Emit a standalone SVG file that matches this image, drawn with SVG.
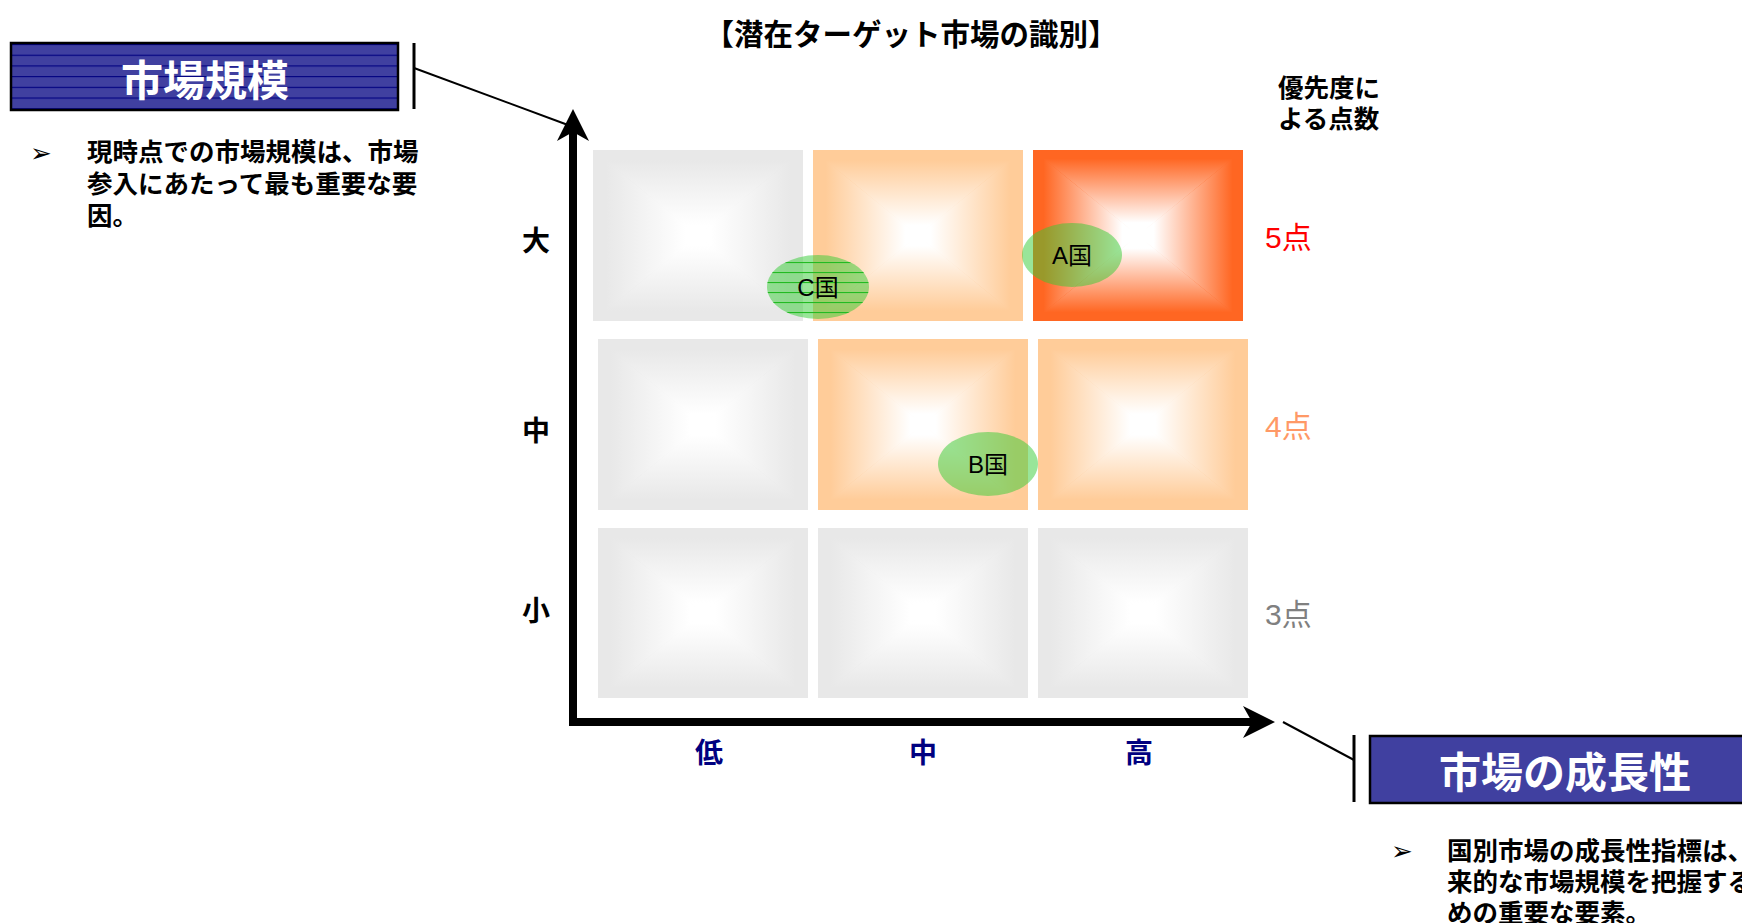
<svg xmlns="http://www.w3.org/2000/svg" width="1742" height="923" viewBox="0 0 1742 923">
<style>
text{font-family:"Liberation Sans","Noto Sans CJK JP",sans-serif}
.b{font-weight:bold}
.hdr{font-size:42px;font-weight:bold;fill:#fff;text-anchor:middle}
.body{font-size:25.5px;font-weight:bold;fill:#000}
.bul{font-family:"DejaVu Sans",sans-serif;font-size:26px;fill:#000}
.ax{font-size:28px;font-weight:bold;text-anchor:middle}
.pt{font-size:30px}
.cn{font-size:24px;text-anchor:middle;fill:#000}
.conn{stroke:#000;fill:none}
.ell{fill:#33CC33;fill-opacity:0.5}
</style>
<defs>
<radialGradient id="gc" cx="0.5" cy="0.5" r="0.5"><stop offset="0.1" stop-color="#fff"/><stop offset="0.85" stop-color="#E8E8E8"/></radialGradient>
<radialGradient id="oc" cx="0.5" cy="0.5" r="0.5"><stop offset="0.1" stop-color="#fff"/><stop offset="0.85" stop-color="#FFCC99"/></radialGradient>
<radialGradient id="rc" cx="0.5" cy="0.5" r="0.5"><stop offset="0.1" stop-color="#fff"/><stop offset="0.85" stop-color="#FF6622"/></radialGradient>
<linearGradient id="gt" x1="0" y1="0" x2="0" y2="1"><stop offset="0" stop-color="#E8E8E8"/><stop offset="0.12" stop-color="#E8E8E8"/><stop offset="0.88" stop-color="#fff"/></linearGradient>
<linearGradient id="gb" x1="0" y1="1" x2="0" y2="0"><stop offset="0" stop-color="#E8E8E8"/><stop offset="0.12" stop-color="#E8E8E8"/><stop offset="0.88" stop-color="#fff"/></linearGradient>
<linearGradient id="gl" x1="0" y1="0" x2="1" y2="0"><stop offset="0" stop-color="#E8E8E8"/><stop offset="0.12" stop-color="#E8E8E8"/><stop offset="0.88" stop-color="#fff"/></linearGradient>
<linearGradient id="gr" x1="1" y1="0" x2="0" y2="0"><stop offset="0" stop-color="#E8E8E8"/><stop offset="0.12" stop-color="#E8E8E8"/><stop offset="0.88" stop-color="#fff"/></linearGradient>
<linearGradient id="ot" x1="0" y1="0" x2="0" y2="1"><stop offset="0" stop-color="#FFCC99"/><stop offset="0.12" stop-color="#FFCC99"/><stop offset="0.88" stop-color="#fff"/></linearGradient>
<linearGradient id="ob" x1="0" y1="1" x2="0" y2="0"><stop offset="0" stop-color="#FFCC99"/><stop offset="0.12" stop-color="#FFCC99"/><stop offset="0.88" stop-color="#fff"/></linearGradient>
<linearGradient id="ol" x1="0" y1="0" x2="1" y2="0"><stop offset="0" stop-color="#FFCC99"/><stop offset="0.12" stop-color="#FFCC99"/><stop offset="0.88" stop-color="#fff"/></linearGradient>
<linearGradient id="or" x1="1" y1="0" x2="0" y2="0"><stop offset="0" stop-color="#FFCC99"/><stop offset="0.12" stop-color="#FFCC99"/><stop offset="0.88" stop-color="#fff"/></linearGradient>
<linearGradient id="rt" x1="0" y1="0" x2="0" y2="1"><stop offset="0" stop-color="#FF6622"/><stop offset="0.1" stop-color="#FF6622"/><stop offset="0.85" stop-color="#fff"/></linearGradient>
<linearGradient id="rb" x1="0" y1="1" x2="0" y2="0"><stop offset="0" stop-color="#FF6622"/><stop offset="0.1" stop-color="#FF6622"/><stop offset="0.85" stop-color="#fff"/></linearGradient>
<linearGradient id="rl" x1="0" y1="0" x2="1" y2="0"><stop offset="0" stop-color="#FF6622"/><stop offset="0.1" stop-color="#FF6622"/><stop offset="0.85" stop-color="#fff"/></linearGradient>
<linearGradient id="rr" x1="1" y1="0" x2="0" y2="0"><stop offset="0" stop-color="#FF6622"/><stop offset="0.1" stop-color="#FF6622"/><stop offset="0.85" stop-color="#fff"/></linearGradient>
<symbol id="cg" viewBox="0 0 100 100" preserveAspectRatio="none"><rect width="100" height="100" fill="url(#gc)"/><polygon points="0,0 100,0 50,50" fill="url(#gt)"/><polygon points="0,100 100,100 50,50" fill="url(#gb)"/><polygon points="0,0 0,100 50,50" fill="url(#gl)"/><polygon points="100,0 100,100 50,50" fill="url(#gr)"/></symbol>
<symbol id="co" viewBox="0 0 100 100" preserveAspectRatio="none"><rect width="100" height="100" fill="url(#oc)"/><polygon points="0,0 100,0 50,50" fill="url(#ot)"/><polygon points="0,100 100,100 50,50" fill="url(#ob)"/><polygon points="0,0 0,100 50,50" fill="url(#ol)"/><polygon points="100,0 100,100 50,50" fill="url(#or)"/></symbol>
<symbol id="cr" viewBox="0 0 100 100" preserveAspectRatio="none"><rect width="100" height="100" fill="url(#rc)"/><polygon points="0,0 100,0 50,50" fill="url(#rt)"/><polygon points="0,100 100,100 50,50" fill="url(#rb)"/><polygon points="0,0 0,100 50,50" fill="url(#rl)"/><polygon points="100,0 100,100 50,50" fill="url(#rr)"/></symbol>
<pattern id="stripeBlue" width="10" height="10.7" patternUnits="userSpaceOnUse" y="44"><line x1="0" y1="0.5" x2="10" y2="0.5" stroke="#000080" stroke-width="1.2"/></pattern>
<pattern id="stripeGreen" width="10" height="10" patternUnits="userSpaceOnUse" y="262"><line x1="0" y1="0.5" x2="10" y2="0.5" stroke="#22BB22" stroke-width="1.2"/></pattern>
<marker id="ah" viewBox="0 0 32 32" refX="9" refY="16" markerWidth="32" markerHeight="32" markerUnits="userSpaceOnUse" orient="auto-start-reverse"><path d="M0,0 L32,16 L0,32 L9,16 Z" fill="#000"/></marker>
</defs>
<rect width="1742" height="923" fill="#fff"/>

<g id="title"><text x="911" y="45" text-anchor="middle" class="b" font-size="29.5">【潜在ターゲット市場の識別】</text></g>

<g id="box-size">
<rect x="11" y="43" width="387" height="67" fill="#4040A0"/>
<rect x="11" y="43" width="387" height="67" fill="url(#stripeBlue)"/>
<rect x="11" y="43" width="387" height="67" fill="none" stroke="#000" stroke-width="2.5"/>
<text x="205" y="96" class="hdr">市場規模</text>
</g>
<g id="text-size">
<text x="30" y="162" class="bul">➢</text>
<text class="body"><tspan x="87" y="161">現時点での市場規模は、市場</tspan><tspan x="87" y="193">参入にあたって最も重要な要</tspan><tspan x="87" y="225">因。</tspan></text>
</g>

<g id="box-growth">
<rect x="1370" y="736" width="380" height="67" fill="#4040A0" stroke="#000" stroke-width="2.5"/>
<text x="1565" y="788" class="hdr">市場の成長性</text>
</g>
<g id="text-growth">
<text x="1391" y="860" class="bul">➢</text>
<text class="body"><tspan x="1447" y="860">国別市場の成長性指標は、将</tspan><tspan x="1447" y="891">来的な市場規模を把握するた</tspan><tspan x="1447" y="922">めの重要な要素。</tspan></text>
</g>

<g id="score-header"><text class="b" font-size="25.5"><tspan x="1278" y="97">優先度に</tspan><tspan x="1278" y="128">よる点数</tspan></text></g>

<g id="cells">
<use href="#cg" x="593" y="150" width="210" height="171"/>
<use href="#co" x="813" y="150" width="210" height="171"/>
<use href="#cr" x="1033" y="150" width="210" height="171"/>
<use href="#cg" x="598" y="339" width="210" height="171"/>
<use href="#co" x="818" y="339" width="210" height="171"/>
<use href="#co" x="1038" y="339" width="210" height="171"/>
<use href="#cg" x="598" y="528" width="210" height="170"/>
<use href="#cg" x="818" y="528" width="210" height="170"/>
<use href="#cg" x="1038" y="528" width="210" height="170"/>
</g>

<g id="y-labels">
<text x="536" y="251" class="ax">大</text>
<text x="536" y="441" class="ax">中</text>
<text x="536" y="621" class="ax">小</text>
</g>
<g id="x-labels">
<text x="709" y="763" class="ax" fill="#000080">低</text>
<text x="923" y="763" class="ax" fill="#000080">中</text>
<text x="1139" y="763" class="ax" fill="#000080">高</text>
</g>
<g id="score-labels">
<text x="1265" y="248" class="pt" fill="#FF0000">5点</text>
<text x="1265" y="437" class="pt" fill="#FF9966">4点</text>
<text x="1265" y="625" class="pt" fill="#808080">3点</text>
</g>

<g id="connectors">
<path d="M573,132 L573,722 L1252,722" class="conn" stroke-width="8" stroke-linejoin="miter" marker-start="url(#ah)" marker-end="url(#ah)"/>
<line x1="414" y1="43" x2="414" y2="109" class="conn" stroke-width="3"/>
<line x1="414" y1="68" x2="568" y2="125" class="conn" stroke-width="2"/>
<line x1="1354" y1="735" x2="1354" y2="802" class="conn" stroke-width="3"/>
<line x1="1283" y1="722" x2="1354" y2="760" class="conn" stroke-width="2"/>
</g>

<g id="country-c">
<ellipse cx="818" cy="287" rx="51" ry="32" class="ell"/>
<ellipse cx="818" cy="287" rx="51" ry="32" fill="url(#stripeGreen)"/>
<text x="818" y="296" class="cn">C国</text>
</g>
<g id="country-a">
<ellipse cx="1072" cy="255" rx="50" ry="32" class="ell"/>
<text x="1072" y="264" class="cn">A国</text>
</g>
<g id="country-b">
<ellipse cx="988" cy="464" rx="50" ry="32" class="ell"/>
<text x="988" y="473" class="cn">B国</text>
</g>
</svg>
